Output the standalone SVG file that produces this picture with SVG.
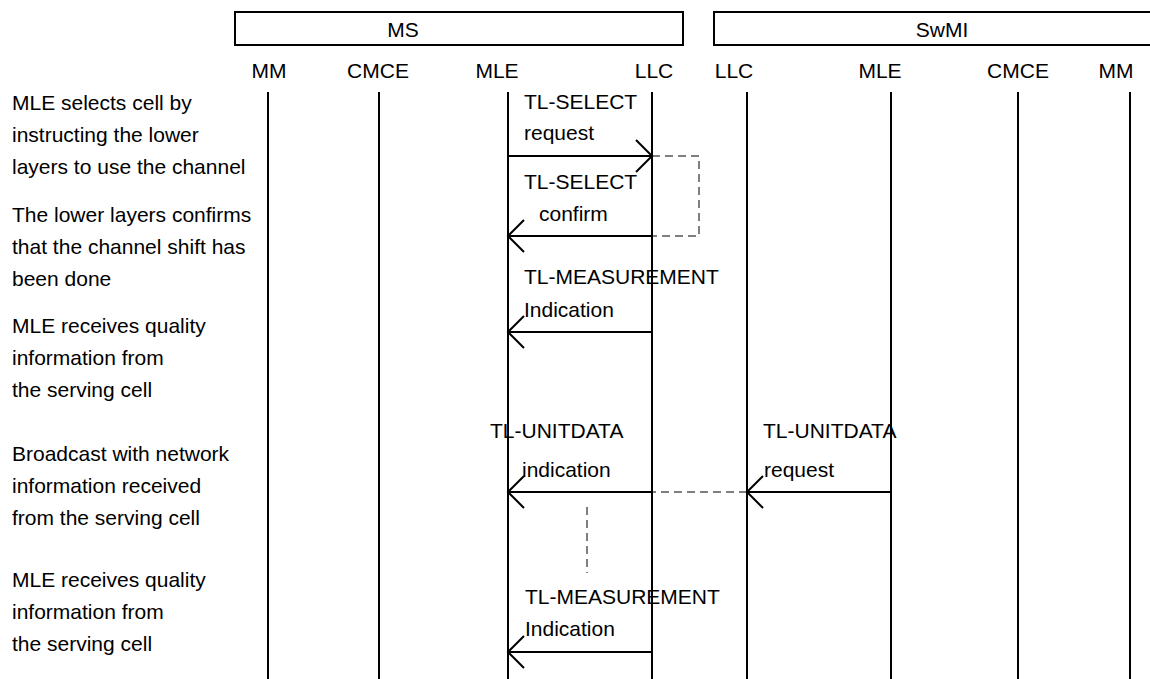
<svg xmlns="http://www.w3.org/2000/svg" width="1150" height="679" viewBox="0 0 1150 679">
<style>
text{font-family:"Liberation Sans",Arial,sans-serif;font-size:21px;fill:#000}
.box{fill:#fff;stroke:#000;stroke-width:2}
.life{stroke:#000;stroke-width:2}
.msg{stroke:#000;stroke-width:2;fill:none}
.dash{stroke:#000;stroke-width:1;fill:none;stroke-dasharray:8 5}
.mid{text-anchor:middle}
</style>
<defs>
<marker id="ah" viewBox="-17 -17 19 34" refX="0" refY="0" markerWidth="19" markerHeight="34" markerUnits="userSpaceOnUse" orient="auto">
<path d="M-16,-16 L0,0 L-16,16" fill="none" stroke="#000" stroke-width="2"/>
</marker>
</defs>
<rect width="1150" height="679" fill="#fff"/>
<g id="MS">
<rect class="box" x="235" y="12" width="448" height="33"/>
<text x="403" y="37" class="mid">MS</text>
</g>
<g id="SwMI">
<rect class="box" x="714" y="12" width="456" height="33"/>
<text x="942" y="37" class="mid">SwMI</text>
</g>
<g id="ms-mm"><text x="269" y="78" class="mid">MM</text><line class="life" x1="268" y1="92" x2="268" y2="679"/></g>
<g id="ms-cmce"><text x="378" y="78" class="mid">CMCE</text><line class="life" x1="379" y1="92" x2="379" y2="679"/></g>
<g id="ms-mle"><text x="497" y="78" class="mid">MLE</text><line class="life" x1="508" y1="92" x2="508" y2="679"/></g>
<g id="ms-llc"><text x="654" y="78" class="mid">LLC</text><line class="life" x1="652" y1="92" x2="652" y2="679"/></g>
<g id="sw-llc"><text x="734" y="78" class="mid">LLC</text><line class="life" x1="747" y1="92" x2="747" y2="679"/></g>
<g id="sw-mle"><text x="880" y="78" class="mid">MLE</text><line class="life" x1="891" y1="92" x2="891" y2="679"/></g>
<g id="sw-cmce"><text x="1018" y="78" class="mid">CMCE</text><line class="life" x1="1018" y1="92" x2="1018" y2="679"/></g>
<g id="sw-mm"><text x="1116" y="78" class="mid">MM</text><line class="life" x1="1130" y1="92" x2="1130" y2="679"/></g>
<g id="connectors">
<line class="msg" x1="508" y1="156" x2="652" y2="156" marker-end="url(#ah)"/>
<path class="dash" d="M652,156 H699 V236 H652"/>
<line class="msg" x1="652" y1="236" x2="508" y2="236" marker-end="url(#ah)"/>
<line class="msg" x1="652" y1="332" x2="508" y2="332" marker-end="url(#ah)"/>
<line class="msg" x1="891" y1="492" x2="747" y2="492" marker-end="url(#ah)"/>
<line class="dash" x1="747" y1="492" x2="652" y2="492"/>
<line class="msg" x1="652" y1="492" x2="508" y2="492" marker-end="url(#ah)"/>
<line class="dash" x1="587" y1="507" x2="587" y2="573"/>
<line class="msg" x1="652" y1="652" x2="508" y2="652" marker-end="url(#ah)"/>
</g>
<g id="labels">
<text x="524" y="109">TL-SELECT</text>
<text x="524" y="140">request</text>
<text x="524" y="189">TL-SELECT</text>
<text x="539" y="221">confirm</text>
<text x="524" y="284">TL-MEASUREMENT</text>
<text x="524" y="317">Indication</text>
<text x="490" y="438">TL-UNITDATA</text>
<text x="522" y="477">indication</text>
<text x="763" y="438">TL-UNITDATA</text>
<text x="764" y="477">request</text>
<text x="525" y="604">TL-MEASUREMENT</text>
<text x="525" y="636">Indication</text>
</g>
<g id="notes">
<text x="12" y="110">MLE selects cell by</text>
<text x="12" y="142">instructing the lower</text>
<text x="12" y="174">layers to use the channel</text>
<text x="12" y="222">The lower layers confirms</text>
<text x="12" y="254">that the channel shift has</text>
<text x="12" y="286">been done</text>
<text x="12" y="333">MLE receives quality</text>
<text x="12" y="365">information from</text>
<text x="12" y="397">the serving cell</text>
<text x="12" y="461">Broadcast with network</text>
<text x="12" y="493">information received</text>
<text x="12" y="525">from the serving cell</text>
<text x="12" y="587">MLE receives quality</text>
<text x="12" y="619">information from</text>
<text x="12" y="651">the serving cell</text>
</g>
</svg>
